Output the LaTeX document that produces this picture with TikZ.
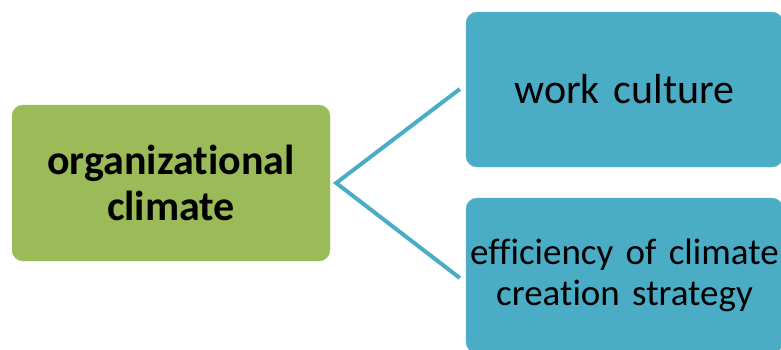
\documentclass[tikz,border=0pt]{standalone}
\usepackage{fontspec}
\setmainfont[Ligatures=NoCommon]{Carlito}
\definecolor{leafgreen}{HTML}{9BBB59}
\definecolor{skyblue}{HTML}{4BACC6}
\tikzset{
  box/.style={rounded corners=11pt, inner sep=0pt, align=center, text=black,
    font=\fontsize{42}{46}\selectfont},
  rootbox/.style={box, fill=leafgreen, draw=leafgreen!85!white, text width=318pt, minimum height=156pt},
  leafbox/.style={box, fill=skyblue, draw=skyblue!85!white, text width=317pt, minimum height=155pt},
  link/.style={draw=skyblue, line width=4pt}
}
\begin{document}
\begin{tikzpicture}[x=1pt,y=-1pt]

\clip (0,0) rectangle (781,349);

\node[rootbox] (org) at (171,183) {\textbf{organizational}\\\textbf{climate}};
\node[leafbox] (work) at (624.5,89.5) {work culture};
\node[leafbox, font=\fontsize{37}{41}\selectfont] (eff) at (624.5,275.5) {efficiency of climate\\creation strategy};

\draw[link] ([xshift=-6pt,yshift=0.5pt]work.west) -- ([xshift=6pt]org.east) -- ([xshift=-6pt,yshift=-2.5pt]eff.west);

\end{tikzpicture}
\end{document}
